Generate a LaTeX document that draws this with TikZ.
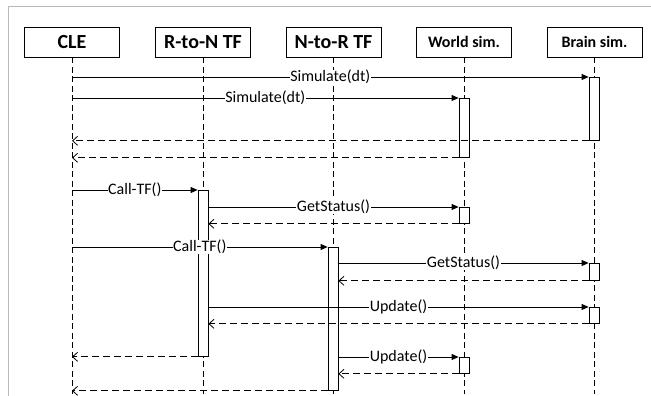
\documentclass[tikz,border=0pt]{standalone}
\usepackage{fontspec}
\setmainfont{Carlito}
\usetikzlibrary{arrows.meta,positioning}

\tikzset{
	head/.style={draw, fill=white, minimum width=95pt, minimum height=30pt, inner sep=0pt,
		font=\fontsize{20}{24}\selectfont\bfseries},
	small head/.style={head, font=\fontsize{16}{19}\selectfont\bfseries},
	lifeline/.style={dash pattern=on 6pt off 3.5pt},
	act/.style={draw, fill=white, minimum width=10pt, inner sep=0pt, anchor=north},
	call/.style={-{Triangle[length=7pt,width=6pt]}},
	ret/.style={dash pattern=on 7pt off 4pt, -{Straight Barb[length=5pt,width=9pt]}},
	msg/.style={fill=white, inner sep=0.5pt, font=\fontsize{16}{19}\selectfont}
}

\begin{document}
\begin{tikzpicture}[x=1pt, y=-1pt, line width=0.8pt]
	\useasboundingbox (0,0) rectangle (651,396);
	\draw [gray!55] (8,396) -- (8,6) -- (651,6);
	% heads and lifelines
	\node [head] (cle) at (72,42) {CLE};
	\node [head] (rton) at (203,42) {R-to-N TF};
	\node [head] (ntor) at (333.5,42) {N-to-R TF};
	\node [small head] (world) at (464,42) {World sim.};
	\node [small head] (brain) at (594.5,42) {Brain sim.};
	\coordinate (bottom) at (0,394);
	\foreach \n in {cle, rton, ntor, world, brain}
		\draw [lifeline] (\n.south) -- (\n.south |- bottom);
	% activations
	\node [act, minimum height=63pt] (brain1) at (594,77) {};
	\node [act, minimum height=59pt] (world1) at (464,98) {};
	\node [act, minimum height=166pt] (rton1) at (203,190) {};
	\node [act, minimum height=16pt] (world2) at (464,207) {};
	\node [act, minimum height=143pt] (ntor1) at (333,247) {};
	\node [act, minimum height=17pt] (brain2) at (594,263) {};
	\node [act, minimum height=16pt] (brain3) at (594,307) {};
	\node [act, minimum height=16pt] (world3) at (464,357) {};
	% messages
	\draw [call] (cle |- brain1.north) -- node [msg] {Simulate(dt)} (brain1.north west);
	\draw [call] (cle |- world1.north) -- node [msg] {Simulate(dt)} (world1.north west);
	\draw [ret] (brain1.south west) -- (cle |- brain1.south);
	\draw [ret] (world1.south west) -- (cle |- world1.south);
	\draw [call] (cle |- rton1.north) -- node [msg] {Call-TF()} (rton1.north west);
	\draw [call] (rton1.east |- world2.north) -- node [msg] {GetStatus()} (world2.north west);
	\draw [ret] (world2.south west) -- (rton1.east |- world2.south);
	\draw [call] (cle |- ntor1.north) -- node [msg] {Call-TF()} (ntor1.north west);
	\draw [call] (ntor1.east |- brain2.north) -- node [msg] {GetStatus()} (brain2.north west);
	\draw [ret] (brain2.south west) -- (ntor1.east |- brain2.south);
	\draw [call] (rton1.east |- brain3.north) -- node [msg] {Update()} (brain3.north west);
	\draw [ret] (brain3.south west) -- (rton1.east |- brain3.south);
	\draw [ret] (rton1.south west) -- (cle |- rton1.south);
	\draw [call] (ntor1.east |- world3.north) -- node [msg] {Update()} (world3.north west);
	\draw [ret] (world3.south west) -- (ntor1.east |- world3.south);
	\draw [ret] (ntor1.south west) -- (cle |- ntor1.south);
\end{tikzpicture}
\end{document}
